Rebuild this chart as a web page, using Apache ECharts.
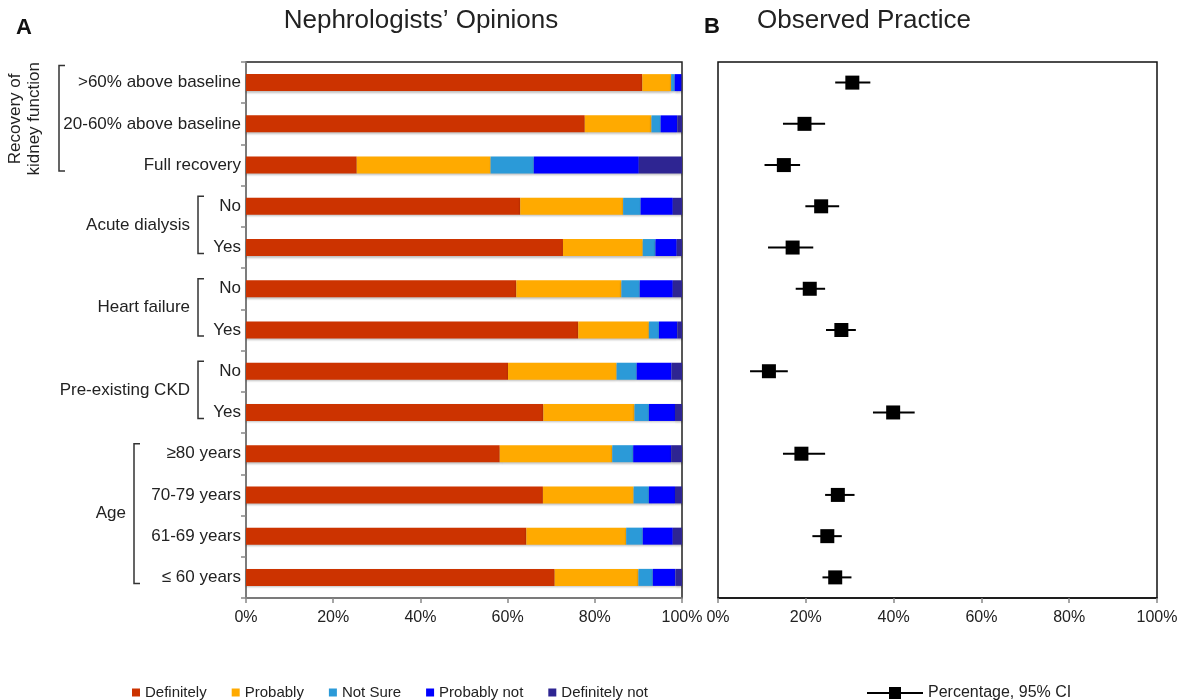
<!DOCTYPE html>
<html><head><meta charset="utf-8">
<script src="https://cdn.jsdelivr.net/npm/echarts@6/dist/echarts.min.js"></script>
<style>html,body{margin:0;padding:0;background:#fff}#c{width:1187px;height:700px}</style>
</head><body><div id="c"></div>
<script>
// ---- data ----
const categories = ['>60% above baseline','20-60% above baseline','Full recovery','No','Yes','No','Yes','No','Yes','≥80 years','70-79 years','61-69 years','≤ 60 years'];
const definitely    = [90.9,77.7,25.4,62.9,72.7,62.0,76.2,60.1,68.2,58.2,68.1,64.3,70.8];
const probably      = [6.6,15.3,30.7,23.6,18.3,24.1,16.2,24.9,20.9,25.8,20.8,22.9,19.2];
const notSure       = [0.8,2.1,9.9,4.0,2.9,4.2,2.3,4.6,3.3,4.8,3.5,3.8,3.3];
const probablyNot   = [1.5,3.8,24.1,7.4,4.9,7.6,4.2,8.0,6.0,8.7,6.0,6.9,5.2];
const definitelyNot = [0.2,1.1,9.9,2.1,1.2,2.1,1.1,2.4,1.6,2.5,1.6,2.1,1.5];
const observedPct = [30.6,19.7,15.0,23.5,17.0,20.9,28.1,11.6,39.9,19.0,27.3,24.9,26.7];
const ciLow       = [26.7,14.8,10.6,19.9,11.4,17.7,24.6,7.3,35.3,14.8,24.4,21.5,23.8];
const ciHigh      = [34.7,24.4,18.7,27.6,21.7,24.4,31.4,15.9,44.8,24.4,31.1,28.2,30.4];
const responseNames = ['Definitely','Probably','Not Sure','Probably not','Definitely not'];
const groupLabels = ['Recovery of\nkidney function','Acute dialysis','Heart failure','Pre-existing CKD','Age'];
const groupFrom = [0,3,5,7,9];
const groupTo   = [2,4,6,8,12];

// ---- styles ----
const FONT = 'Liberation Sans, Arial, sans-serif';
const colors = ['#CC3300','#FFAA00','#2B9AD8','#0000FF','#2E2592'];
const bracketX = [59,198,198,198,134];

const chart = echarts.init(document.getElementById('c'), null, {renderer:'canvas'});
const barSeries = [definitely, probably, notSure, probablyNot, definitelyNot].map((arr,k)=>({
  name: responseNames[k], type:'bar', stack:'s', xAxisIndex:0, yAxisIndex:0,
  data: arr, barWidth: 17,
  itemStyle:{color: colors[k], shadowColor:'rgba(0,0,0,0.25)', shadowOffsetY:1.5, shadowBlur:2},
  emphasis:{disabled:true}
}));

const option = {
  animation:false,
  textStyle:{fontFamily:FONT},
  grid:[
    {left:246, top:62, width:436, height:536, show:true, borderColor:'#222', borderWidth:1.5, backgroundColor:'transparent'},
    {left:718, top:62, width:439, height:536, show:true, borderColor:'#111', borderWidth:1.5, backgroundColor:'transparent'}
  ],
  xAxis:[
    {gridIndex:0, type:'value', min:0, max:100, interval:20,
     axisLine:{show:true, lineStyle:{color:'#888', width:1.5}},
     axisTick:{show:true, length:5, lineStyle:{color:'#888', width:1.5}},
     splitLine:{show:false},
     axisLabel:{formatter:'{value}%', fontSize:16, color:'#222', margin:12, fontFamily:FONT}},
    {gridIndex:1, type:'value', min:0, max:100, interval:20,
     axisLine:{show:true, lineStyle:{color:'#111', width:1.5}},
     axisTick:{show:true, length:5, lineStyle:{color:'#888', width:1.5}},
     splitLine:{show:false},
     axisLabel:{formatter:'{value}%', fontSize:16, color:'#222', margin:12, fontFamily:FONT}}
  ],
  yAxis:[
    {gridIndex:0, type:'category', data:categories, inverse:true,
     axisLine:{show:true, lineStyle:{color:'#888', width:1.5}},
     axisTick:{show:true, length:5, lineStyle:{color:'#888', width:1.5}},
     axisLabel:{fontSize:17, color:'#222', margin:5, fontFamily:FONT}},
    {gridIndex:1, type:'category', data:categories, inverse:true,
     axisLine:{show:false}, axisTick:{show:false}, axisLabel:{show:false}}
  ],
  legend:[
    {data:responseNames, left:127, top:680, icon:'rect', itemWidth:8, itemHeight:8, itemGap:25,
     textStyle:{fontSize:15, color:'#222', fontFamily:FONT}, selectedMode:false},
    {data:['Percentage, 95% CI'], left:862, top:680, itemWidth:56, itemHeight:12,
     icon:'path://M0,5 L56,5 L56,7 L0,7 Z M22,0 L34,0 L34,12 L22,12 Z',
     itemStyle:{color:'#000', opacity:1},
     textStyle:{fontSize:16, color:'#222', fontFamily:FONT}, selectedMode:false}
  ],
  series: barSeries.concat([
    {name:'CI', type:'custom', xAxisIndex:1, yAxisIndex:1,
     data: ciLow.map((l,i)=>[l, ciHigh[i], i]),
     encode:{x:[0,1], y:2},
     renderItem:(params, api)=>{
       const p1 = api.coord([api.value(0), api.value(2)]);
       const p2 = api.coord([api.value(1), api.value(2)]);
       return {type:'line', shape:{x1:p1[0], y1:p1[1], x2:p2[0], y2:p2[1]}, style:{stroke:'#000', lineWidth:2}};
     }},
    {name:'Percentage, 95% CI', type:'scatter', xAxisIndex:1, yAxisIndex:1,
     data: observedPct.map((v,i)=>[v,i]), symbol:'rect', symbolSize:14,
     itemStyle:{color:'#000', opacity:1}, emphasis:{disabled:true}, z:5}
  ])
};
chart.setOption(option);

// ---- annotations: titles, group labels & brackets ----
const g = [
  {type:'text', x:24, y:28, style:{text:'A', font:'bold 22px '+FONT, fill:'#111', textAlign:'center', textVerticalAlign:'middle'}},
  {type:'text', x:421, y:21, style:{text:'Nephrologists’ Opinions', font:'26px '+FONT, fill:'#222', textAlign:'center', textVerticalAlign:'middle'}},
  {type:'text', x:712, y:27, style:{text:'B', font:'bold 22px '+FONT, fill:'#111', textAlign:'center', textVerticalAlign:'middle'}},
  {type:'text', x:864, y:21, style:{text:'Observed Practice', font:'26px '+FONT, fill:'#222', textAlign:'center', textVerticalAlign:'middle'}}
];
groupLabels.forEach((lab,k)=>{
  const yTop = chart.convertToPixel({yAxisIndex:0}, groupFrom[k]);
  const yBot = chart.convertToPixel({yAxisIndex:0}, groupTo[k]);
  const bx = bracketX[k];
  const t = yTop - (k===0 ? 17 : 10), b = yBot + 6;
  g.push({type:'polyline', shape:{points:[[bx+6,t],[bx,t],[bx,b],[bx+6,b]]}, style:{stroke:'#333', lineWidth:1.5, fill:null}});
  const mid = (yTop+yBot)/2;
  if (k===0) {
    g.push({type:'text', x:25, y:mid-5, rotation:Math.PI/2,
      style:{text:lab, font:'17px '+FONT, fill:'#222', textAlign:'center', textVerticalAlign:'middle', lineHeight:19}});
  } else {
    g.push({type:'text', x:bx-8, y:mid-2, style:{text:lab, font:'17px '+FONT, fill:'#222', textAlign:'right', textVerticalAlign:'middle'}});
  }
});
chart.setOption({graphic:g});
</script></body></html>
